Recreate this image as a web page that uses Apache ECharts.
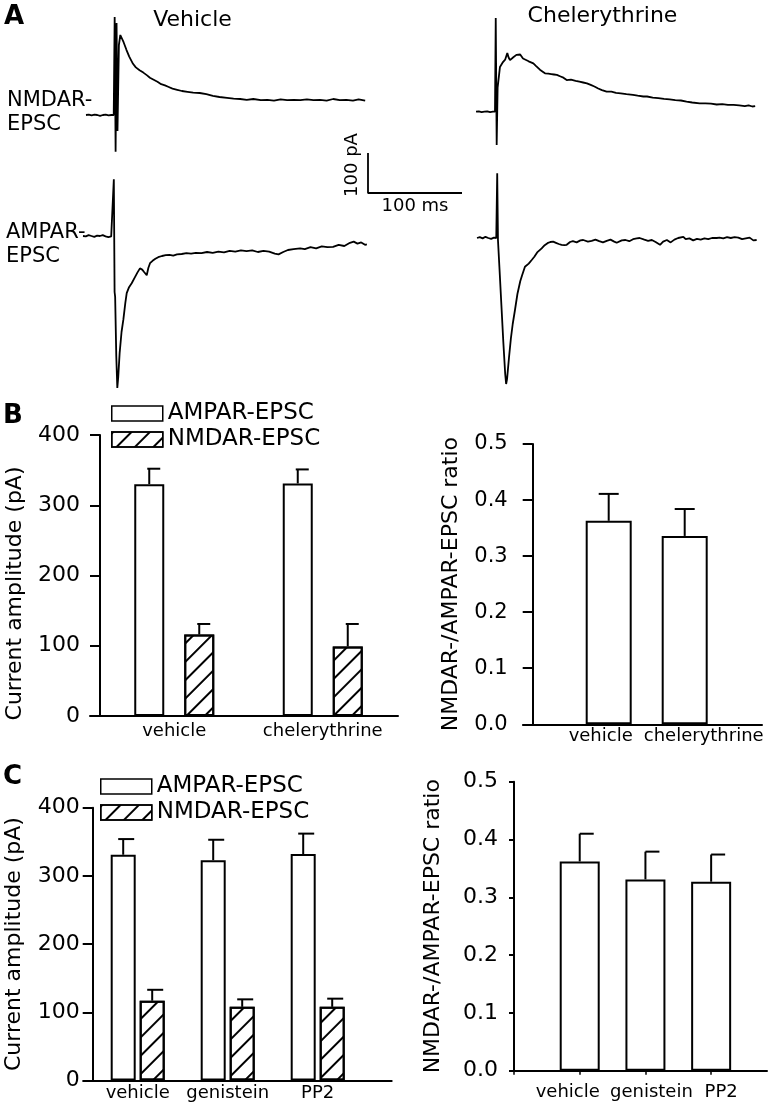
<!DOCTYPE html>
<html><head><meta charset="utf-8">
<script src="https://cdn.jsdelivr.net/npm/echarts@6/dist/echarts.min.js"></script>
<style>html,body{margin:0;padding:0;background:#fff}#chart{width:771px;height:1103px}</style>
</head><body><div id="chart"></div>
<script>
// ---------------- DATA ----------------
// Panel A example traces: [time (ms), current (pA) relative to baseline]
const vehNmdaTrace = [[0,0],[3,1],[6,-1],[9,1],[12,0],[15,-2],[18,0],[21,1],[24,-1],[27,0],[29.5,0],[30.5,245],[31.5,-92],[32.5,230],[33.5,-40],[35,175],[36.5,200],[38,196],[40,182],[43,163],[46,146],[50,128],[53,119],[57,112],[61,106],[65,99],[68,93],[72,88],[76,83],[80,77],[84,74],[88,70],[92,66],[97,63],[102,60],[108,58],[114,56],[121,55],[128,52],[135,48],[142,45],[150,43],[157,41],[164,40],[171,38],[178,40],[186,37],[193,38],[200,36],[207,39],[214,37],[221,38],[228,37],[235,39],[242,37],[249,38],[256,36],[263,40],[270,37],[277,38],[284,36],[290,39],[297,36]];
const vehAmpaTrace = [[0,0],[3,-1],[6,2],[9,0],[12,-2],[15,1],[18,0],[21,2],[24,-1],[27,-3],[30,-1],[32,0],[32.8,142],[33.6,-140],[34.2,-152],[35.4,-300],[36.5,-380],[37.5,-352],[39,-292],[41,-240],[43,-208],[45,-168],[46.5,-143],[49,-128],[51.8,-118],[55,-104],[58,-91],[60.6,-81],[63,-84],[65,-90],[67.8,-98],[69.5,-80],[71.3,-68],[74,-62],[77,-57],[80,-53],[84,-50],[88,-48],[92,-47],[96,-49],[100,-46],[105,-45],[110,-43],[115,-44],[120,-42],[126,-43],[132,-40],[138,-42],[144,-39],[150,-41],[156,-37],[162,-39],[168,-36],[174,-38],[180,-36],[186,-40],[192,-37],[198,-39],[204,-44],[208,-46],[213,-40],[218,-35],[224,-33],[231,-31],[236,-33],[242,-28],[248,-31],[254,-26],[260,-28],[266,-27],[272,-22],[278,-25],[284,-17],[288,-14],[292,-19],[296,-16],[300,-22],[302,-21]];
const chelNmdaTrace = [[0,0],[3,1],[6,-1],[9,0],[12,1],[15,-1],[18,0],[20.2,0],[21,234],[22,-83],[23,60],[25.5,112],[28.7,124],[31,130],[33.3,147],[34.8,135],[36.2,129],[38,133],[39.7,136],[41.5,133],[43,142],[45,147],[47,143],[50,133],[52.1,129],[56,126],[61,121],[64,114],[68,105],[71,100],[73.4,96],[77,95],[80,94],[83,93],[86,92],[90,88],[93,85],[96.5,79],[101,80],[106,77],[110,75],[114,73],[118,71],[122,67],[126,63],[130,58],[134,54],[139,50],[144,50],[149,47],[154,46],[160,44],[167,42],[172,40],[178,38],[182,38],[188,35],[194,34],[200,32],[206,31],[212,29],[218,28],[224,25],[230,23],[238,21],[244,21],[250,20],[256,18],[262,19],[268,17],[274,17],[280,16],[286,14],[290,16],[294,13],[297,14]];
const chelAmpaTrace = [[0,0],[3,2],[6,-1],[9,3],[12,0],[15,-2],[18,1],[20.5,0],[21.5,162],[22.3,-5],[24,-80],[26,-170],[28,-260],[30,-340],[31,-365],[32,-352],[34,-300],[36,-252],[38,-215],[40.4,-180],[43,-140],[46,-108],[48,-93],[51,-72],[53,-67],[55,-64],[58.2,-55],[61,-47],[64,-36],[66,-31],[68.8,-26],[72,-18],[75,-13],[78,-10],[81,-9],[84,-12],[87,-15],[90,-17],[93,-18],[95.4,-17],[99,-10],[102,-8],[106,-11],[110,-6],[113,-5],[118,-9],[122,-7],[126,-4],[130,-8],[134,-11],[138,-7],[142,-4],[146,-9],[148.6,-12],[154,-6],[158,-5],[162,-8],[166,-3],[170,-1],[173,0],[178,-4],[182,-7],[186,-5],[190,-10],[194.7,-17],[198,-9],[202,-5],[206,-11],[210,-4],[214,0],[219.5,3],[222,-3],[226,-1],[230,-6],[234,-2],[238,-4],[242,-1],[246,-3],[250,0],[255,0],[258,1],[262,-1],[266,2],[270,0],[274,2],[278,1],[282,-3],[286,-1],[290,1],[294,-6],[297.5,-5]];
const scaleBar = [[0,100],[0,0],[100,0]]; // 100 pA / 100 ms

// Panel B
const bCategories = ['vehicle', 'chelerythrine'];
const bAmpaMean = [330, 331];
const bAmpaSem  = [22, 20];
const bNmdaMean = [116, 99];
const bNmdaSem  = [15, 32];
const bRatioMean = [0.363, 0.336];
const bRatioSem  = [0.048, 0.048];

// Panel C
const cCategories = ['vehicle', 'genistein', 'PP2'];
const cAmpaMean = [331, 323, 332];
const cAmpaSem  = [23, 30, 30];
const cNmdaMean = [117, 108, 108];
const cNmdaSem  = [16, 11, 12];
const cRatioMean = [0.362, 0.331, 0.327];
const cRatioSem  = [0.048, 0.048, 0.047];

// Tick labels
const ampTicks = [0, 100, 200, 300, 400];
const ratioTicks = [0, 0.1, 0.2, 0.3, 0.4, 0.5];
const seriesNames = ['AMPAR-EPSC', 'NMDAR-EPSC'];
const ampName = 'Current amplitude (pA)';
const ratioName = 'NMDAR-/AMPAR-EPSC ratio';

// ---------------- STYLE / LAYOUT ----------------
const FONT = 'DejaVu Sans';
const BLACK = '#000';
const hatch = {symbol: 'rect', symbolSize: 1, dashArrayX: [1, 0], dashArrayY: [2, 11], rotation: -Math.PI / 4, color: BLACK};

const chart = echarts.init(document.getElementById('chart'), null, {renderer: 'canvas'});

const grids = [];
const xAxes = [];
const yAxes = [];
const series = [];

function addGrid(rect) {
  grids.push(Object.assign({outerBoundsMode: 'none', containLabel: false}, rect));
  return grids.length - 1;
}

// Trace grids (hidden axes, common scale 0.94 px/ms, 0.4 px/pA)
const traceX = {min: 0, max: 310};
const traceY = {min: -400, max: 250};
const traceW = 310 * 0.94, traceH = 650 * 0.4;
const traces = [
  {data: vehNmdaTrace, left: 86, top: 15},
  {data: vehAmpaTrace, left: 83, top: 136},
  {data: chelNmdaTrace, left: 476, top: 11.7},
  {data: chelAmpaTrace, left: 477, top: 138}
];
traces.forEach(t => {
  const g = addGrid({left: t.left, top: t.top, width: traceW, height: traceH});
  xAxes.push({gridIndex: g, type: 'value', min: traceX.min, max: traceX.max, show: false});
  yAxes.push({gridIndex: g, type: 'value', min: traceY.min, max: traceY.max, show: false});
  series.push({type: 'line', xAxisIndex: g, yAxisIndex: g, data: t.data, showSymbol: false, silent: true,
    lineStyle: {color: BLACK, width: 1.8}, clip: false});
});

// Scale bar grid
{
  const g = addGrid({left: 368, top: 153, width: 94, height: 40});
  const hidden = {axisLine: {show: false}, axisTick: {show: false}, axisLabel: {show: false}, splitLine: {show: false}};
  xAxes.push(Object.assign({gridIndex: g, type: 'value', min: 0, max: 100, name: '100 ms', nameLocation: 'middle', nameGap: 4, nameMoveOverlap: false,
    nameTextStyle: {fontFamily: FONT, fontSize: 18, color: BLACK}}, hidden));
  yAxes.push(Object.assign({gridIndex: g, type: 'value', min: 0, max: 100, name: '100 pA', nameLocation: 'middle', nameGap: 7, nameMoveOverlap: false,
    nameTextStyle: {fontFamily: FONT, fontSize: 18, color: BLACK, padding: [0, 0, 0, 16]}}, hidden));
  series.push({type: 'line', xAxisIndex: g, yAxisIndex: g, data: scaleBar, showSymbol: false, silent: true,
    lineStyle: {color: BLACK, width: 1.8}, clip: false});
}

function valueYAxis(g, ticks, opts) {
  return {
    gridIndex: g, type: 'value', min: ticks[0], max: ticks[ticks.length - 1], interval: ticks[1] - ticks[0],
    axisLine: {show: true, onZero: false, lineStyle: {color: BLACK, width: 2}},
    axisTick: {show: true, length: opts.tickLen, lineStyle: {color: BLACK, width: 2}},
    axisLabel: {margin: opts.labelMargin, fontFamily: FONT, fontSize: opts.labelSize, color: BLACK, formatter: opts.formatter},
    splitLine: {show: false},
    name: opts.name, nameLocation: 'middle', nameGap: opts.nameGap, nameMoveOverlap: false,
    nameTextStyle: {fontFamily: FONT, fontSize: 22, color: BLACK, padding: opts.namePadding || 0}
  };
}
function frameGrid(left, top, width, height) {
  const g = addGrid({left, top, width, height});
  xAxes.push({gridIndex: g, type: 'value', min: 0, max: 1, axisLine: {show: true, onZero: false, lineStyle: {color: BLACK, width: 2}},
    axisTick: {show: false}, axisLabel: {show: false}, splitLine: {show: false}});
  yAxes.push({gridIndex: g, type: 'value', min: 0, max: 1, show: false});
}
function errorSeries(g, data, offset, capL, capR) {
  return {
    type: 'custom', xAxisIndex: g, yAxisIndex: g, data, z: 5, silent: true, clip: false,
    renderItem(params, api) {
      const base = api.coord([api.value(0), api.value(1)]);
      const top = api.coord([api.value(0), api.value(1) + api.value(2)]);
      const x = base[0] + offset;
      return {type: 'group', children: [
        {type: 'line', shape: {x1: x, y1: base[1], x2: x, y2: top[1]}, style: {stroke: BLACK, lineWidth: 2}},
        {type: 'line', shape: {x1: x - capL, y1: top[1], x2: x + capR, y2: top[1]}, style: {stroke: BLACK, lineWidth: 2}}
      ]};
    }
  };
}
const openBar = {color: '#fff', borderColor: BLACK, borderWidth: 2};
const hatchBar = {color: '#fff', borderColor: BLACK, borderWidth: 2, decal: hatch};

// ----- B left: amplitudes -----
{
  const L = {left: 100, top: 435, width: 297, height: 281, barW: 30, gap: 20};
  const g = addGrid({left: L.left, top: L.top, width: L.width, height: L.height});
  xAxes.push({gridIndex: g, type: 'category', data: bCategories, axisLine: {show: false}, axisTick: {show: false},
    axisLabel: {interval: 0, margin: 6, fontFamily: FONT, fontSize: 18, color: BLACK}});
  yAxes.push(valueYAxis(g, ampTicks, {tickLen: 10, labelMargin: 20, labelSize: 22, name: ampName, nameGap: 74, namePadding: [0, 36, 0, 0]}));
  const gapPct = (L.gap / L.barW * 100) + '%';
  series.push({type: 'bar', name: seriesNames[0], xAxisIndex: g, yAxisIndex: g, data: bAmpaMean, barWidth: L.barW, barGap: gapPct, itemStyle: openBar});
  series.push({type: 'bar', name: seriesNames[1], xAxisIndex: g, yAxisIndex: g, data: bNmdaMean, barWidth: L.barW, barGap: gapPct, itemStyle: hatchBar});
  const off = (L.barW + L.gap) / 2;
  series.push(errorSeries(g, bCategories.map((c, i) => [c, bAmpaMean[i], bAmpaSem[i]]), -off, 2, 11));
  series.push(errorSeries(g, bCategories.map((c, i) => [c, bNmdaMean[i], bNmdaSem[i]]), off, 2, 11));
  frameGrid(90, L.top, 308, L.height);
}
// ----- B right: ratio -----
{
  const L = {left: 532.7, top: 444, width: 228, height: 280.3, barW: 46};
  const g = addGrid({left: L.left, top: L.top, width: L.width, height: L.height});
  xAxes.push({gridIndex: g, type: 'value', min: 0, max: 3, interval: 1, axisLine: {show: false}, axisTick: {show: false}, splitLine: {show: false},
    axisLabel: {margin: 3, fontFamily: FONT, fontSize: 18, color: BLACK,
      formatter: v => (v >= 1 && v <= bCategories.length) ? `{c${v - 1}|${bCategories[v - 1]}}` : '',
      rich: {c0: {fontFamily: FONT, fontSize: 18, color: BLACK, padding: [0, 16, 0, 0]}, c1: {fontFamily: FONT, fontSize: 18, color: BLACK, padding: [0, 0, 0, 38]}}}});
  yAxes.push(valueYAxis(g, ratioTicks, {tickLen: 10, labelMargin: 25, labelSize: 21, formatter: v => v.toFixed(1), name: ratioName, nameGap: 70}));
  series.push({type: 'bar', name: 'ratio', xAxisIndex: g, yAxisIndex: g, data: bRatioMean.map((v, i) => [i + 1, v]), barWidth: L.barW, itemStyle: openBar});
  series.push(errorSeries(g, bRatioMean.map((v, i) => [i + 1, v, bRatioSem[i]]), 0, 10, 10));
  frameGrid(523, L.top, 239, L.height);
}
// ----- C left: amplitudes -----
{
  const L = {left: 92.7, top: 807.7, width: 270, height: 272.8, barW: 25, gap: 4};
  const g = addGrid({left: L.left, top: L.top, width: L.width, height: L.height});
  xAxes.push({gridIndex: g, type: 'category', data: cCategories, axisLine: {show: false}, axisTick: {show: false},
    axisLabel: {interval: 0, margin: 4, fontFamily: FONT, fontSize: 18, color: BLACK}});
  yAxes.push(valueYAxis(g, ampTicks, {tickLen: 10, labelMargin: 13, labelSize: 22, name: ampName, nameGap: 67}));
  const gapPct = (L.gap / L.barW * 100) + '%';
  series.push({type: 'bar', name: seriesNames[0], xAxisIndex: g, yAxisIndex: g, data: cAmpaMean, barWidth: L.barW, barGap: gapPct, itemStyle: openBar});
  series.push({type: 'bar', name: seriesNames[1], xAxisIndex: g, yAxisIndex: g, data: cNmdaMean, barWidth: L.barW, barGap: gapPct, itemStyle: hatchBar});
  const off = (L.barW + L.gap) / 2;
  series.push(errorSeries(g, cCategories.map((c, i) => [c, cAmpaMean[i], cAmpaSem[i]]), -off, 5, 11));
  series.push(errorSeries(g, cCategories.map((c, i) => [c, cNmdaMean[i], cNmdaSem[i]]), off, 5, 11));
  frameGrid(83.3, L.top, 308.4, L.height);
}
// ----- C right: ratio -----
{
  const L = {left: 514, top: 781.7, width: 253, height: 289, barW: 40};
  const g = addGrid({left: L.left, top: L.top, width: L.width, height: L.height});
  const nud = [{padding: [0, 24, 0, 0]}, {padding: [0, 0, 0, 12]}, {padding: [0, 0, 0, 20]}];
  const rich = {};
  nud.forEach((n, i) => { rich['c' + i] = Object.assign({fontFamily: FONT, fontSize: 18, color: BLACK}, n); });
  xAxes.push({gridIndex: g, type: 'value', min: 0, max: 3.85, interval: 1,
    axisLine: {show: true, onZero: false, lineStyle: {color: BLACK, width: 2}},
    axisTick: {show: true, length: 4, lineStyle: {color: BLACK, width: 1.5}}, splitLine: {show: false},
    axisLabel: {margin: 13, fontFamily: FONT, fontSize: 18, color: BLACK, showMaxLabel: false,
      formatter: v => (Number.isInteger(v) && v >= 1 && v <= cCategories.length) ? `{c${v - 1}|${cCategories[v - 1]}}` : '', rich}});
  yAxes.push(valueYAxis(g, ratioTicks, {tickLen: 5, labelMargin: 16, labelSize: 22, formatter: v => v.toFixed(1), name: ratioName, nameGap: 70}));
  series.push({type: 'bar', name: 'ratioC', xAxisIndex: g, yAxisIndex: g, data: cRatioMean.map((v, i) => [i + 1, v]), barWidth: L.barW, itemStyle: openBar});
  series.push(errorSeries(g, cRatioMean.map((v, i) => [i + 1, v, cRatioSem[i]]), 0, 0, 14));
}

const legendBase = {orient: 'vertical', icon: 'rect', itemWidth: 51, itemHeight: 15, itemGap: 3, padding: 0, selectedMode: false,
  textStyle: {fontFamily: FONT, fontSize: 23, color: BLACK}, itemStyle: {borderColor: BLACK, borderWidth: 1.5}, data: seriesNames};

function txt(text, x, y, size, opts) {
  opts = opts || {};
  return {type: 'text', x, y, silent: true, style: {text, fill: BLACK,
    font: (opts.bold ? 'bold ' : '') + size + 'px "' + FONT + '"',
    align: opts.align || 'left', textAlign: opts.align || 'left', verticalAlign: 'middle', textVerticalAlign: 'middle'}};
}

chart.setOption({
  animation: false,
  backgroundColor: '#fff',
  textStyle: {fontFamily: FONT},
  grid: grids, xAxis: xAxes, yAxis: yAxes, series,
  legend: [
    Object.assign({left: 111, top: 402}, legendBase),
    Object.assign({left: 100, top: 775}, legendBase)
  ],
  graphic: [
    txt('A', 4, 17.5, 26, {bold: true}),
    txt('Vehicle', 192.5, 20, 22, {align: 'center'}),
    txt('Chelerythrine', 602.5, 16, 22, {align: 'center'}),
    txt('NMDAR-', 7, 101, 21), txt('EPSC', 7, 125, 21),
    txt('AMPAR-', 6, 233, 21), txt('EPSC', 6, 257, 21),
    txt('B', 3, 416, 26, {bold: true}),
    txt('C', 3, 777.5, 26, {bold: true})
  ]
});
</script>
</body></html>
